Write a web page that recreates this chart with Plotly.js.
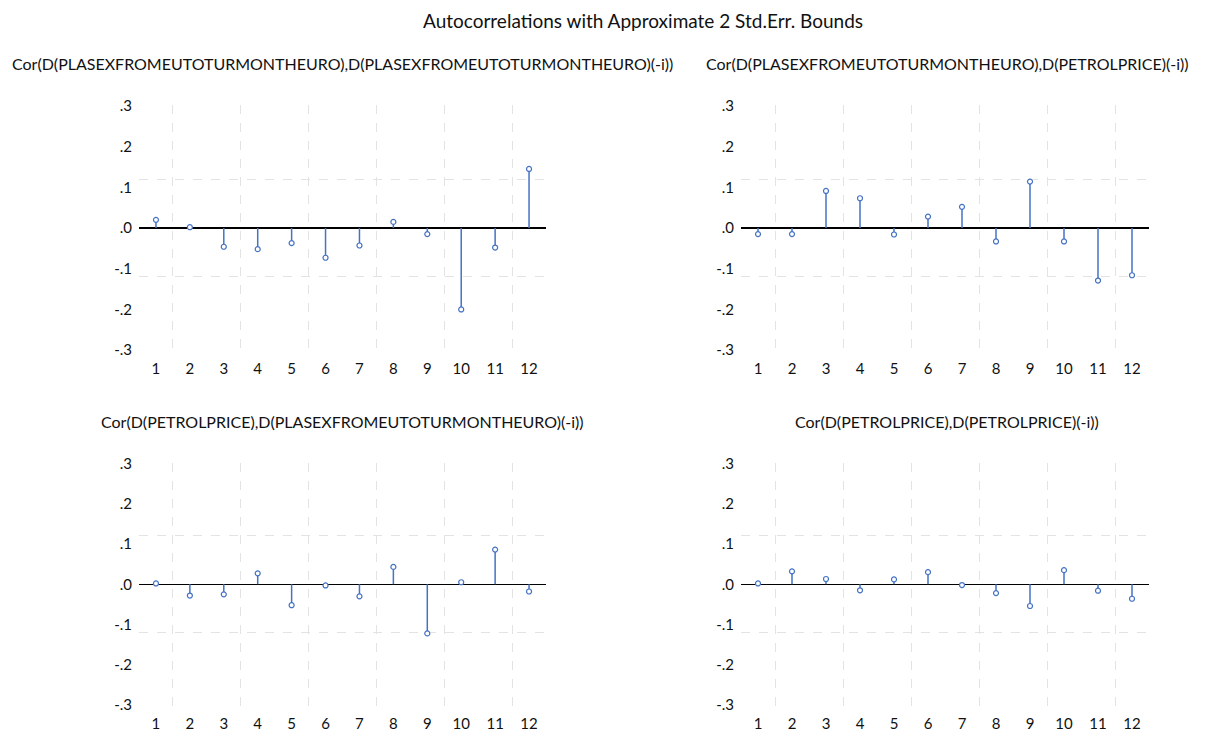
<!DOCTYPE html>
<html>
<head>
<meta charset="utf-8">
<script src="https://cdn.plot.ly/plotly-3.0.1.min.js"></script>
<style>html,body{margin:0;padding:0;background:#fff;}#chart{width:1207px;height:736px;}</style>
</head>
<body>
<div id="chart"></div>
<script>
// ---- data ----
const lags = [1,2,3,4,5,6,7,8,9,10,11,12];
const corPlasPlas = [0.020, 0.002, -0.046, -0.052, -0.037, -0.073, -0.043, 0.015, -0.015, -0.200, -0.048, 0.145];
const corPlasPetrol = [-0.015, -0.015, 0.091, 0.073, -0.016, 0.028, 0.052, -0.033, 0.114, -0.033, -0.129, -0.116];
const corPetrolPlas = [0.002, -0.028, -0.025, 0.027, -0.052, -0.003, -0.030, 0.043, -0.122, 0.005, 0.086, -0.018];
const corPetrolPetrol = [0.002, 0.032, 0.013, -0.015, 0.012, 0.030, -0.002, -0.022, -0.054, 0.035, -0.016, -0.036];
const stdErrBound = 0.12;
const panelTitles = [
  "Cor(D(PLASEXFROMEUTOTURMONTHEURO),D(PLASEXFROMEUTOTURMONTHEURO)(-i))",
  "Cor(D(PLASEXFROMEUTOTURMONTHEURO),D(PETROLPRICE)(-i))",
  "Cor(D(PETROLPRICE),D(PLASEXFROMEUTOTURMONTHEURO)(-i))",
  "Cor(D(PETROLPRICE),D(PETROLPRICE)(-i))"
];
const mainTitle = "Autocorrelations with Approximate 2 Std.Err. Bounds";
const yTickVals = [0.3, 0.2, 0.1, 0, -0.1, -0.2, -0.3];
const yTickText = [".3", ".2", ".1", ".0", "-.1", "-.2", "-.3"];

// ---- styling / layout ----
const W = 1207, H = 736;
const FONT = "Lato, Open Sans, sans-serif";
const BLUE = "#4472C4";
const series = [corPlasPlas, corPlasPetrol, corPetrolPlas, corPetrolPetrol];
const xDom = [[139/W, 546/W], [741/W, 1149/W]];
const yDom = [[1 - 351/H, 1 - 105/H], [1 - 706/H, 1 - 462.5/H]];
const gridVals = lags.filter(l => l % 2 === 1).map(l => l + 0.5).filter(v => v < 12.5);

const traces = [];
const layout = {
  width: W, height: H,
  margin: {l: 0, r: 0, t: 0, b: 0},
  paper_bgcolor: "#fff", plot_bgcolor: "#fff",
  showlegend: false,
  font: {family: FONT, color: "#111", size: 15},
  annotations: [], shapes: []
};

series.forEach((vals, i) => {
  const n = i + 1;
  const xa = "x" + (n === 1 ? "" : n), ya = "y" + (n === 1 ? "" : n);
  const stemX = [], stemY = [];
  lags.forEach((l, k) => { stemX.push(l, l, null); stemY.push(0, vals[k], null); });
  traces.push({x: stemX, y: stemY, xaxis: xa, yaxis: ya, mode: "lines", type: "scatter",
    line: {color: BLUE, width: 1.5}, hoverinfo: "skip"});
  traces.push({x: lags, y: vals, xaxis: xa, yaxis: ya, mode: "markers", type: "scatter",
    marker: {symbol: "circle", size: 5, color: "#fff", line: {color: BLUE, width: 1.2}}});
  const col = i % 2, row = Math.floor(i / 2);
  const xKey = "xaxis" + (n === 1 ? "" : n), yKey = "yaxis" + (n === 1 ? "" : n);
  layout[xKey] = {
    domain: xDom[col], anchor: ya, range: [0.5, 12.5],
    tickvals: lags, ticktext: lags.map(String), ticks: "", showline: false,
    showgrid: false, zeroline: false, tickfont: {size: 15, family: FONT, color: "#111"},
    ticklabelstandoff: 7,
    minor: {tickvals: gridVals, showgrid: true, gridcolor: "#e3e3e3", griddash: "dash", gridwidth: 1, ticks: ""},
    fixedrange: true
  };
  layout[yKey] = {
    domain: yDom[row], anchor: xa, range: [-0.302, 0.302],
    tickvals: yTickVals, ticktext: yTickText, ticks: "", showline: false,
    showgrid: false, zeroline: true, zerolinecolor: "#000", zerolinewidth: 1.5,
    tickfont: {size: 15, family: FONT, color: "#111"}, ticklabelstandoff: 6,
    minor: {tickvals: [-stdErrBound, stdErrBound], showgrid: true, gridcolor: "#e3e3e3", griddash: "dash", gridwidth: 1, ticks: ""},
    fixedrange: true
  };
  layout.annotations.push({
    text: panelTitles[i], xref: "paper", yref: "paper",
    x: (xDom[col][0] + xDom[col][1]) / 2 + (col === 0 ? 0 : 2 / W),
    y: row === 0 ? 1 - 64 / H : 1 - 421 / H,
    xanchor: "center", yanchor: "middle", showarrow: false,
    font: {size: 16, family: FONT, color: "#111"}
  });
});
layout.annotations.push({
  text: mainTitle, xref: "paper", yref: "paper", x: 643 / W, y: 1 - 20 / H,
  xanchor: "center", yanchor: "middle", showarrow: false,
  font: {size: 19, family: FONT, color: "#111"}
});

Plotly.newPlot("chart", traces, layout, {displayModeBar: false, staticPlot: true});
</script>
</body>
</html>
